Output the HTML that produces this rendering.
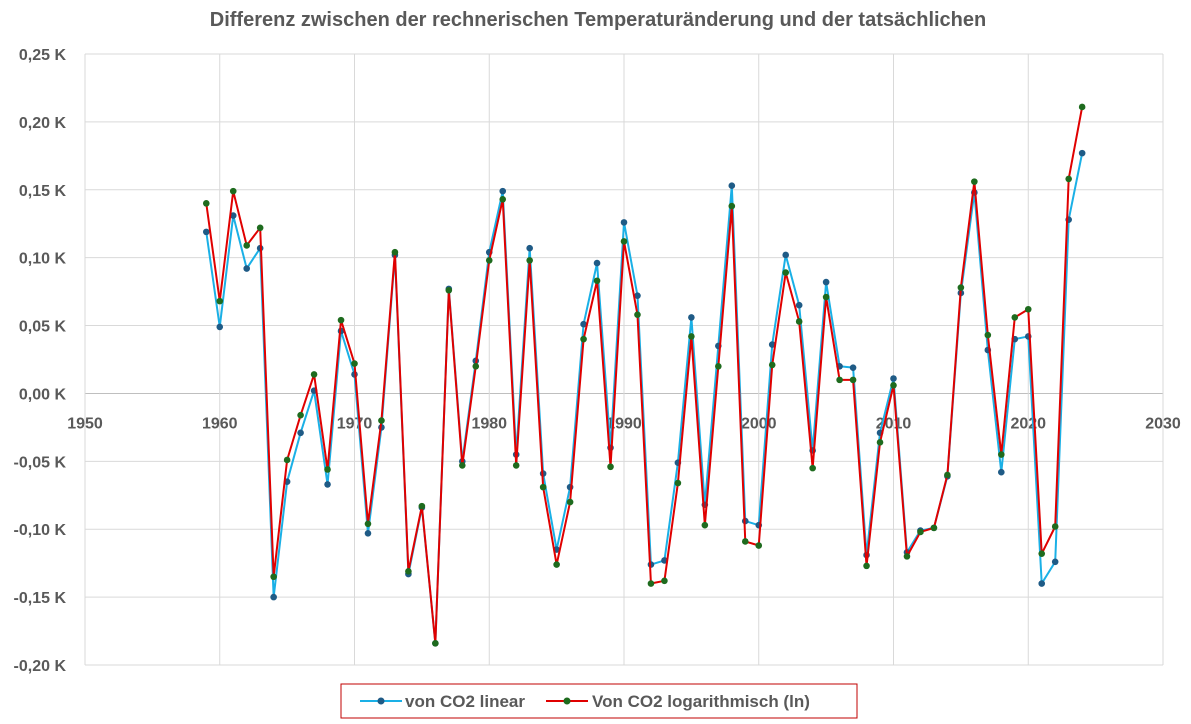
<!DOCTYPE html>
<html><head><meta charset="utf-8"><style>
body{margin:0;background:#fff;}
svg{display:block;font-family:"Liberation Sans",sans-serif;}
</style></head><body>
<svg id="chart" width="1191" height="724">
<text x="598" y="26" text-anchor="middle" font-size="20" font-weight="bold" fill="#595959">Differenz zwischen der rechnerischen Temperaturänderung und der tatsächlichen</text>
<g id="grid"></g><g id="axes"></g><g id="series"></g>
<rect x="341" y="684" width="516" height="34" fill="#fff" stroke="#c00000" stroke-width="1"/>
<g>
<line x1="360" y1="701" x2="402" y2="701" stroke="#1ab0e6" stroke-width="2"/><circle cx="381" cy="701" r="3.5" fill="#1f5b86"/>
<text x="405" y="707" font-size="17" font-weight="bold" fill="#595959">von CO2 linear</text></g>
<g>
<line x1="546" y1="701" x2="588" y2="701" stroke="#e00000" stroke-width="2"/><circle cx="567" cy="701" r="3.5" fill="#1e6b1e"/>
<text x="592" y="707" font-size="17" font-weight="bold" fill="#595959">Von CO2 logarithmisch (ln)</text></g>
</svg>
<script>
const years=[];for(let y=1959;y<=2024;y++)years.push(y);
const linearValues=[0.119,0.049,0.131,0.092,0.107,-0.150,-0.065,-0.029,0.002,-0.067,0.046,0.014,-0.103,-0.025,0.102,-0.133,-0.084,-0.184,0.077,-0.050,0.024,0.104,0.149,-0.045,0.107,-0.059,-0.115,-0.069,0.051,0.096,-0.040,0.126,0.072,-0.126,-0.123,-0.051,0.056,-0.082,0.035,0.153,-0.094,-0.097,0.036,0.102,0.065,-0.042,0.082,0.020,0.019,-0.119,-0.029,0.011,-0.117,-0.101,-0.099,-0.061,0.074,0.148,0.032,-0.058,0.040,0.042,-0.140,-0.124,0.128,0.177];
const logValues=[0.140,0.068,0.149,0.109,0.122,-0.135,-0.049,-0.016,0.014,-0.056,0.054,0.022,-0.096,-0.020,0.104,-0.131,-0.083,-0.184,0.076,-0.053,0.020,0.098,0.143,-0.053,0.098,-0.069,-0.126,-0.080,0.040,0.083,-0.054,0.112,0.058,-0.140,-0.138,-0.066,0.042,-0.097,0.020,0.138,-0.109,-0.112,0.021,0.089,0.053,-0.055,0.071,0.010,0.010,-0.127,-0.036,0.006,-0.120,-0.102,-0.099,-0.060,0.078,0.156,0.043,-0.045,0.056,0.062,-0.118,-0.098,0.158,0.211];
const xTicks=[1950,1960,1970,1980,1990,2000,2010,2020,2030];
const yTicks=[0.25,0.20,0.15,0.10,0.05,0,-0.05,-0.10,-0.15,-0.20];
const X0=85,X1=1163,Y0=54,Y1=665;
const xs=v=>X0+(v-1950)/80*(X1-X0);
const ys=v=>Y0+(0.25-v)/0.45*(Y1-Y0);
const NS="http://www.w3.org/2000/svg";
function mk(t,a,p){const e=document.createElementNS(NS,t);for(const k in a)e.setAttribute(k,a[k]);p.appendChild(e);return e;}
const grid=document.getElementById('grid'),axes=document.getElementById('axes'),ser=document.getElementById('series');
yTicks.forEach(v=>{
 const l=mk('line',{x1:X0,x2:X1,y1:ys(v),y2:ys(v),stroke:v===0?'#bfbfbf':'#d9d9d9','stroke-width':1},grid);
 
 
 const t=mk('text',{x:66,y:ys(v)+6,'text-anchor':'end','font-size':16,'font-weight':'bold',fill:'#595959'},axes);
 t.textContent=v.toFixed(2).replace('.',',')+' K';
 
 
});
xTicks.forEach(v=>{
 const l=mk('line',{x1:xs(v),x2:xs(v),y1:Y0,y2:Y1,stroke:'#d9d9d9','stroke-width':1},grid);
 
 
 const t=mk('text',{x:xs(v),y:ys(0)+35,'text-anchor':'middle','font-size':16,'font-weight':'bold',fill:'#595959'},axes);
 t.textContent=v;
 
 
});
function draw(vals,lc,mc,name){
 const g=mk('g',{},ser);
 
 
 const p=mk('polyline',{points:vals.map((v,i)=>xs(years[i])+','+ys(v)).join(' '),fill:'none',stroke:lc,'stroke-width':2,'stroke-linejoin':'round'},g);
 
 
 vals.forEach((v,i)=>{
  const c=mk('circle',{cx:xs(years[i]),cy:ys(v),r:3.3,fill:mc},g);
  
  
 });
}
draw(linearValues,'#1ab0e6','#1f5b86','series-linear');
draw(logValues,'#e00000','#1e6b1e','series-log');
</script>
</body></html>
